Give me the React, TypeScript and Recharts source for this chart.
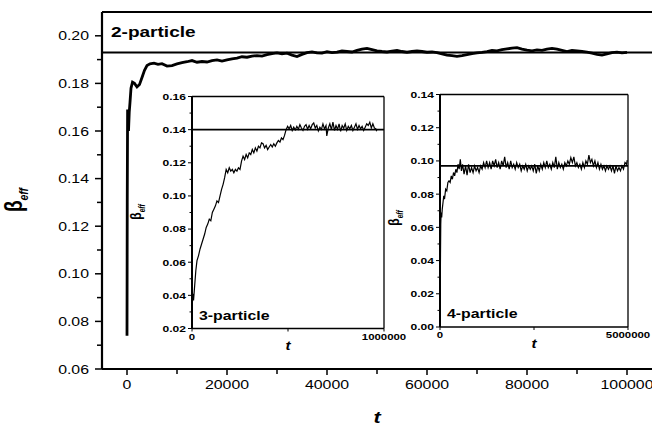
import { LineChart, Line, XAxis, YAxis, ReferenceLine } from 'recharts';

// 2-particle run (main panel)
const mainTime = [
  0, 50, 120, 200, 300, 450, 600, 800, 1100, 1500, 2000, 2500, 3000, 3500, 4000, 4600, 5400, 6200, 7000,
  8000, 9000, 10000, 11000, 12000, 13000, 14000, 15000, 16000, 17000, 18000, 19000, 20000, 21000, 22000,
  23000, 24000, 25000, 26000, 27000, 28000, 29000, 30000, 31000, 32000, 33000, 34000, 35000, 36000, 37000,
  38000, 39000, 40000, 41000, 42000, 43000, 44000, 45000, 46000, 47000, 48000, 49000, 50000, 51000, 52000,
  53000, 54000, 55000, 56000, 57000, 58000, 59000, 60000, 61000, 62000, 63000, 64000, 65000, 66000, 67000,
  68000, 69000, 70000, 71000, 72000, 73000, 74000, 75000, 76000, 77000, 78000, 79000, 80000, 81000, 82000,
  83000, 84000, 85000, 86000, 87000, 88000, 89000, 90000, 91000, 92000, 93000, 94000, 95000, 96000, 97000,
  98000, 99000, 100000,
];
const mainBeta = [
  0.074, 0.13, 0.169, 0.163, 0.16, 0.168, 0.172, 0.178, 0.1805, 0.18, 0.1785, 0.1795, 0.1825, 0.1855, 0.1875,
  0.1882, 0.1885, 0.188, 0.1883, 0.1873, 0.1875, 0.1882, 0.1887, 0.1891, 0.1896, 0.1889, 0.1892, 0.189,
  0.1896, 0.1899, 0.1894, 0.1899, 0.1903, 0.1906, 0.1912, 0.191, 0.1915, 0.1917, 0.1915, 0.1921, 0.1925,
  0.1928, 0.1924, 0.1927, 0.1919, 0.1913, 0.1922, 0.1929, 0.1932, 0.1928, 0.1927, 0.1933, 0.1929, 0.1931,
  0.1936, 0.1934, 0.1932, 0.1939, 0.1944, 0.1947, 0.1942, 0.1937, 0.1934, 0.1932, 0.1936, 0.1939, 0.1934,
  0.1931, 0.1934, 0.1937, 0.1934, 0.1931, 0.1932, 0.1929, 0.1924, 0.1919, 0.1917, 0.1914, 0.1917, 0.1921,
  0.1925, 0.1928, 0.193, 0.1934, 0.1939, 0.1937, 0.1942, 0.1945, 0.1948, 0.195, 0.1944, 0.194, 0.1937,
  0.1941, 0.1939, 0.1944, 0.1947, 0.1944, 0.1939, 0.1934, 0.1939, 0.1937, 0.1934, 0.1931, 0.1927, 0.1922,
  0.1919, 0.1924, 0.1929, 0.1931, 0.1928, 0.193,
];

// 3-particle run (inset, t in thousands)
const threeTimeK = [
  0, 4, 8, 14, 20, 26, 34, 42, 50, 58, 66, 74, 82, 90, 98, 106, 114, 122, 130, 138, 146, 154, 162, 170,
  178, 186, 194, 202, 210, 218, 226, 234, 242, 250, 258, 266, 274, 282, 290, 298, 306, 314, 322, 330, 338,
  346, 354, 362, 370, 378, 386, 394, 402, 410, 418, 426, 434, 442, 450, 458, 466, 474, 482, 490, 498, 506,
  514, 522, 530, 538, 546, 554, 562, 570, 578, 586, 594, 602, 610, 618, 626, 634, 642, 650, 658, 666, 674,
  682, 690, 698, 702, 710, 718, 726, 734, 742, 750, 758, 766, 774, 782, 790, 798, 806, 814, 822, 830, 838,
  846, 854, 862, 870, 878, 886, 894, 902, 910, 918, 926, 934, 942, 950, 958, 962,
];
const threeBeta = [
  0.03, 0.041, 0.037, 0.046, 0.055, 0.061, 0.064, 0.068, 0.071, 0.074, 0.077, 0.081, 0.083, 0.086, 0.085,
  0.09, 0.092, 0.094, 0.097, 0.096, 0.1, 0.104, 0.107, 0.111, 0.116, 0.114, 0.117, 0.115, 0.116, 0.114,
  0.116, 0.115, 0.117, 0.116, 0.121, 0.124, 0.122, 0.125, 0.123, 0.126, 0.125, 0.128, 0.126, 0.129, 0.127,
  0.13, 0.129, 0.132, 0.1315, 0.129, 0.1305, 0.128, 0.1295, 0.131, 0.1295, 0.1315, 0.13, 0.132, 0.1335,
  0.1325, 0.135, 0.134, 0.1365, 0.14, 0.142, 0.1405, 0.1425, 0.1395, 0.1415, 0.1398, 0.142, 0.1402, 0.143,
  0.141, 0.1395, 0.142, 0.143, 0.1402, 0.1425, 0.1405, 0.143, 0.144, 0.141, 0.1425, 0.1392, 0.1415, 0.1402,
  0.1435, 0.1405, 0.1425, 0.1362, 0.141, 0.1435, 0.14, 0.1445, 0.1395, 0.1425, 0.1402, 0.1435, 0.139,
  0.1425, 0.1408, 0.1435, 0.1395, 0.142, 0.1405, 0.1425, 0.1395, 0.1415, 0.1435, 0.1402, 0.1425, 0.1405,
  0.142, 0.1395, 0.1415, 0.1435, 0.1425, 0.1445, 0.141, 0.1435, 0.141, 0.1405, 0.139,
];

// 4-particle run (inset, t in thousands)
const fourTimeK = [
  0, 10, 20, 30, 45, 60, 80, 100, 120, 150, 180, 210, 240, 270, 300, 330, 360, 390, 420, 450, 480, 510, 540,
  570, 600, 640, 680, 720, 760, 800, 840, 880, 920, 960, 1000, 1040, 1080, 1120, 1160, 1200, 1240, 1280,
  1320, 1360, 1400, 1440, 1480, 1520, 1560, 1600, 1640, 1680, 1720, 1760, 1800, 1840, 1880, 1920, 1960,
  2000, 2040, 2080, 2120, 2160, 2200, 2240, 2280, 2320, 2360, 2400, 2440, 2480, 2520, 2560, 2600, 2640,
  2680, 2720, 2760, 2800, 2840, 2880, 2920, 2960, 3000, 3040, 3080, 3120, 3160, 3200, 3240, 3280, 3320,
  3360, 3400, 3440, 3480, 3520, 3560, 3600, 3640, 3680, 3720, 3760, 3800, 3840, 3880, 3920, 3960, 4000,
  4040, 4080, 4120, 4160, 4200, 4240, 4280, 4320, 4360, 4400, 4440, 4480, 4520, 4560, 4600, 4640, 4680,
  4720, 4760, 4800, 4840, 4880, 4920, 4960, 4980,
];
const fourBeta = [
  0.01, 0.035, 0.062, 0.069, 0.066, 0.071, 0.075, 0.079, 0.077, 0.083, 0.082, 0.087, 0.088, 0.087, 0.091,
  0.089, 0.093, 0.091, 0.095, 0.093, 0.098, 0.095, 0.101, 0.094, 0.098, 0.092, 0.097, 0.0915, 0.098, 0.093,
  0.096, 0.093, 0.097, 0.094, 0.096, 0.093, 0.097, 0.095, 0.099, 0.096, 0.1, 0.096, 0.099, 0.095, 0.1,
  0.097, 0.101, 0.096, 0.099, 0.095, 0.1, 0.097, 0.1025, 0.096, 0.099, 0.095, 0.1, 0.096, 0.098, 0.095,
  0.099, 0.096, 0.098, 0.094, 0.097, 0.095, 0.098, 0.094, 0.097, 0.095, 0.097, 0.094, 0.098, 0.0925, 0.097,
  0.094, 0.098, 0.095, 0.099, 0.096, 0.1, 0.096, 0.098, 0.095, 0.099, 0.096, 0.1025, 0.095, 0.099, 0.096,
  0.098, 0.095, 0.099, 0.097, 0.1, 0.098, 0.102, 0.099, 0.1025, 0.097, 0.099, 0.096, 0.098, 0.095, 0.099,
  0.096, 0.1, 0.098, 0.1035, 0.099, 0.101, 0.097, 0.1, 0.096, 0.099, 0.095, 0.098, 0.095, 0.097, 0.094,
  0.097, 0.095, 0.097, 0.094, 0.097, 0.0925, 0.097, 0.094, 0.096, 0.094, 0.097, 0.095, 0.099, 0.098, 0.1005,
];

const mainLimit = 0.193;
const threeLimit = 0.14;
const fourLimit = 0.097;

const mainXTicks = [0, 10000, 20000, 30000, 40000, 50000, 60000, 70000, 80000, 90000, 100000];
const mainYTicks = [0.06, 0.07, 0.08, 0.09, 0.1, 0.11, 0.12, 0.13, 0.14, 0.15, 0.16, 0.17, 0.18, 0.19, 0.2];
const threeXTicks = [0, 500000, 1000000];
const threeYTicks = [0.02, 0.03, 0.04, 0.05, 0.06, 0.07, 0.08, 0.09, 0.1, 0.11, 0.12, 0.13, 0.14, 0.15, 0.16];
const fourXTicks = [0, 2500000, 5000000];
const fourYTicks = [0, 0.01, 0.02, 0.03, 0.04, 0.05, 0.06, 0.07, 0.08, 0.09, 0.1, 0.11, 0.12, 0.13, 0.14];

const mainData = mainTime.map((t, i) => ({ t, beta: mainBeta[i] }));
const threeData = threeTimeK.map((t, i) => ({ t: t * 1000, beta: threeBeta[i] }));
const fourData = fourTimeK.map((t, i) => ({ t: t * 1000, beta: fourBeta[i] }));

const FONT = 'Liberation Sans, Arial, Helvetica, sans-serif';
const SX = 1.27; // glyphs in the figure are stretched sideways

function Txt(p: any) {
  const { x, y, anchor = 'start', size, weight = 'normal', italic = false, children } = p;
  return (
    <text
      transform={`translate(${x},${y}) scale(${SX},1)`}
      textAnchor={anchor}
      fontSize={size}
      fontWeight={weight}
      fontStyle={italic ? 'italic' : 'normal'}
      fontFamily={FONT}
      fill="#000"
    >
      {children}
    </text>
  );
}

type TickOpts = {
  side: 'left' | 'bottom';
  isMajor: (v: number) => boolean;
  showLabel: (v: number) => boolean;
  fmt: (v: number) => string;
  big: number;
  small: number;
  gap: number;
  size: number;
  weight: string;
  width: number;
};

const tickOf = (o: TickOpts) => (props: any) => {
  const { x, y, payload } = props;
  const v = payload.value;
  const len = o.isMajor(v) ? o.big : o.small;
  if (o.side === 'left') {
    return (
      <g>
        <line x1={x} y1={y} x2={x - len} y2={y} stroke="#000" strokeWidth={o.width} />
        {o.showLabel(v) && (
          <Txt x={x - o.big - o.gap} y={y + o.size * 0.36} anchor="end" size={o.size} weight={o.weight}>
            {o.fmt(v)}
          </Txt>
        )}
      </g>
    );
  }
  return (
    <g>
      <line x1={x} y1={y} x2={x} y2={y + len} stroke="#000" strokeWidth={o.width} />
      {o.showLabel(v) && (
        <Txt x={x} y={y + o.big + o.gap + o.size * 0.72} anchor="middle" size={o.size} weight={o.weight}>
          {o.fmt(v)}
        </Txt>
      )}
    </g>
  );
};

const evenHundredth = (v: number) => Math.round(v * 100) % 2 === 0;

// rotated beta_eff title; dx from the axis box's left edge, cy in chart pixels
function BetaLabel(props: any) {
  const { viewBox, dx, cy, size } = props;
  const x = viewBox.x + dx;
  return (
    <text
      transform={`translate(${x},${cy}) rotate(-90) scale(1,${SX})`}
      textAnchor="middle"
      fontFamily={FONT}
      fontWeight="bold"
      fontSize={size}
      fill="#000"
    >
      β
      <tspan fontSize={size * 0.55} fontStyle="italic" dy={size * 0.25}>
        eff
      </tspan>
    </text>
  );
}

function TimeLabel(props: any) {
  const { viewBox, dy, size, tag, tagSize } = props;
  return (
    <g>
      <Txt x={viewBox.x + viewBox.width / 2} y={viewBox.y + dy} anchor="middle" size={size} weight="bold" italic>
        t
      </Txt>
      {tag && (
        <Txt x={viewBox.x + 7} y={viewBox.y - 9} size={tagSize} weight="bold">
          {tag}
        </Txt>
      )}
    </g>
  );
}

function CornerTag(props: any) {
  const { viewBox, text } = props;
  return (
    <Txt x={viewBox.x + 9} y={viewBox.y + 25} size={15} weight="bold">
      {text}
    </Txt>
  );
}

function Inset(props: any) {
  const { data, left, top, width, height, margin, yWidth, xHeight, xDomain, yDomain, xTicks, yTicks, limit, tag, betaDx, betaCy } = props;
  const [x0, x1] = xDomain;
  const [, y1] = yDomain;
  return (
    <div style={{ position: 'absolute', left, top }}>
      <LineChart width={width} height={height} data={data} margin={margin}>
        <XAxis
          dataKey="t"
          type="number"
          domain={xDomain}
          ticks={xTicks}
          interval={0}
          tickSize={0}
          tickMargin={0}
          height={xHeight}
          axisLine={{ stroke: '#000', strokeWidth: 1.5 }}
          tickLine={false}
          tick={tickOf({
            side: 'bottom',
            isMajor: (v) => v === x0 || v === x1,
            showLabel: (v) => v === x0 || v === x1,
            fmt: (v) => String(v),
            big: 3,
            small: 3,
            gap: 2,
            size: 9,
            weight: 'bold',
            width: 1,
          })}
          label={<TimeLabel dy={21} size={12} tag={tag} tagSize={12.5} />}
        />
        <YAxis
          type="number"
          domain={yDomain}
          ticks={yTicks}
          interval={0}
          tickSize={0}
          tickMargin={0}
          width={yWidth}
          axisLine={{ stroke: '#000', strokeWidth: 2 }}
          tickLine={false}
          tick={tickOf({
            side: 'left',
            isMajor: evenHundredth,
            showLabel: evenHundredth,
            fmt: (v) => v.toFixed(2),
            big: 4,
            small: 2.5,
            gap: 2,
            size: 9.5,
            weight: 'bold',
            width: 1,
          })}
          label={<BetaLabel dx={betaDx} cy={betaCy} size={12} />}
        />
        <ReferenceLine y={y1} stroke="#000" strokeWidth={1.3} />
        <ReferenceLine x={x1} stroke="#000" strokeWidth={1.3} />
        <ReferenceLine y={limit} stroke="#000" strokeWidth={1.6} />
        <Line
          type="linear"
          dataKey="beta"
          stroke="#000"
          strokeWidth={1.2}
          dot={false}
          isAnimationActive={false}
        />
      </LineChart>
    </div>
  );
}

export default function App() {
  return (
    <div style={{ position: 'absolute', left: 0, top: 0, width: 652, height: 431, background: '#fff' }}>
      <div style={{ position: 'absolute', left: 0, top: 0 }}>
        <LineChart width={652} height={431} data={mainData} margin={{ top: 12, right: 0, bottom: 0, left: 0 }}>
          <XAxis
            dataKey="t"
            type="number"
            domain={[-5000, 105000]}
            ticks={mainXTicks}
            interval={0}
            tickSize={0}
            tickMargin={0}
            height={62}
            axisLine={{ stroke: '#000', strokeWidth: 2.2 }}
            tickLine={false}
            tick={tickOf({
              side: 'bottom',
              isMajor: (v) => v % 20000 === 0,
              showLabel: (v) => v % 20000 === 0,
              fmt: (v) => String(v),
              big: 6,
              small: 5,
              gap: 5,
              size: 12.5,
              weight: 'normal',
              width: 1.5,
            })}
            label={<TimeLabel dy={54} size={17} />}
          />
          <YAxis
            type="number"
            domain={[0.06, 0.21]}
            ticks={mainYTicks}
            interval={0}
            tickSize={0}
            tickMargin={0}
            width={102}
            axisLine={{ stroke: '#000', strokeWidth: 2.2 }}
            tickLine={false}
            tick={tickOf({
              side: 'left',
              isMajor: evenHundredth,
              showLabel: evenHundredth,
              fmt: (v) => v.toFixed(2),
              big: 7,
              small: 5,
              gap: 6,
              size: 12.5,
              weight: 'normal',
              width: 1.5,
            })}
            label={<BetaLabel dx={22} cy={200} size={19} />}
          />
          <ReferenceLine y={0.21} stroke="#000" strokeWidth={2.2} label={<CornerTag text="2-particle" />} />
          <ReferenceLine y={mainLimit} stroke="#000" strokeWidth={2} />
          <Line
            type="linear"
            dataKey="beta"
            stroke="#000"
            strokeWidth={2.8}
            dot={false}
            isAnimationActive={false}
          />
        </LineChart>
      </div>
      <Inset
        data={threeData}
        left={120}
        top={86}
        width={300}
        height={270}
        margin={{ top: 10.5, right: 36, bottom: 0, left: 0 }}
        yWidth={72}
        xHeight={27.5}
        xDomain={[0, 1000000]}
        yDomain={[0.02, 0.16]}
        xTicks={threeXTicks}
        yTicks={threeYTicks}
        limit={threeLimit}
        tag="3-particle"
        betaDx={21}
        betaCy={126}
      />
      <Inset
        data={fourData}
        left={370}
        top={84}
        width={282}
        height={270}
        margin={{ top: 10.5, right: 24, bottom: 0, left: 0 }}
        yWidth={70}
        xHeight={27}
        xDomain={[0, 5000000]}
        yDomain={[0, 0.14]}
        xTicks={fourXTicks}
        yTicks={fourYTicks}
        limit={fourLimit}
        tag="4-particle"
        betaDx={29}
        betaCy={134}
      />
    </div>
  );
}
